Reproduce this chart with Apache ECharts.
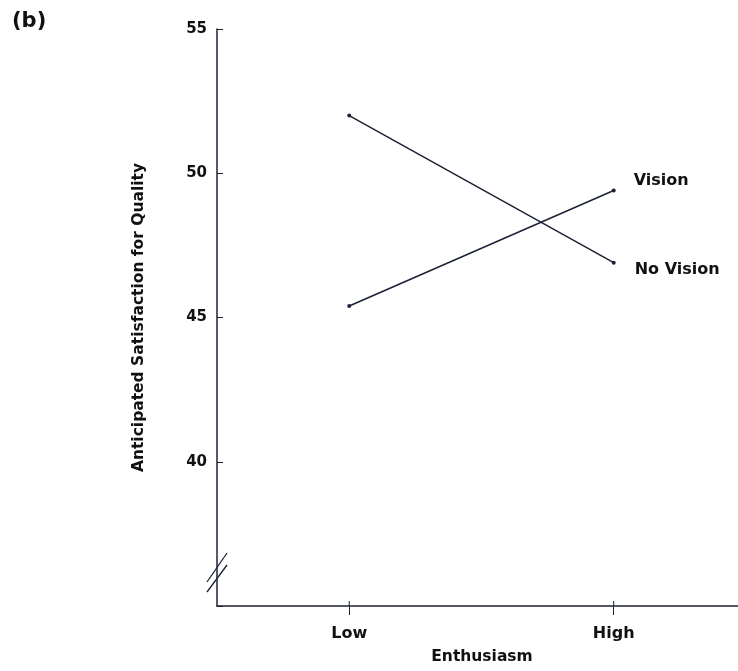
<!DOCTYPE html>
<html>
<head>
<meta charset="utf-8">
<script src="https://cdn.jsdelivr.net/npm/echarts@6/dist/echarts.min.js"></script>
<style>html,body{margin:0;padding:0;background:#fff}#c{width:738px;height:671px}</style>
</head>
<body>
<div id="c"></div>
<script>
var categories = ['Low', 'High'];
var visionValues = [45.4, 49.4];
var noVisionValues = [52.0, 46.9];
var seriesNames = ['Vision', 'No Vision'];
var yTicks = [40, 45, 50, 55];

function toPoints(vals) {
  return vals.map(function (v, i) { return [i + 1, v]; });
}
var catPositions = categories.map(function (c, i) { return i + 1; });

var chart = echarts.init(document.getElementById('c'));
var ink = '#1c2236';
var font = 'DejaVu Sans';
var txt = '#111';
chart.setOption({
  backgroundColor: '#ffffff',
  animation: false,
  title: { text: '(b)', left: 7, top: 6, textStyle: { fontFamily: font, fontWeight: 'bold', fontSize: 21, color: txt } },
  grid: { left: 217, top: 29, right: 0, height: 577 },
  xAxis: {
    type: 'value', min: 0.5, max: 2.47,
    name: 'Enthusiasm', nameLocation: 'middle', nameGap: 43,
    nameTextStyle: { fontFamily: font, fontWeight: 'bold', fontSize: 15.5, color: txt, padding: [0, 0, 0, 9] },
    axisLine: { lineStyle: { color: ink, width: 1.5 } },
    axisTick: { length: 9, customValues: catPositions, lineStyle: { color: ink, width: 1 } },
    axisLabel: { margin: 20, customValues: catPositions, fontFamily: font, fontWeight: 'bold', fontSize: 16, color: txt,
      formatter: function (v) { return categories[Math.round(v) - 1] || ''; } },
    splitLine: { show: false }
  },
  yAxis: {
    type: 'value', min: 35, max: 55, interval: 5,
    name: 'Anticipated Satisfaction for Quality', nameLocation: 'middle', nameGap: 70, nameRotate: 90,
    nameTextStyle: { fontFamily: font, fontWeight: 'bold', fontSize: 15.5, color: txt },
    axisLine: { show: true, lineStyle: { color: ink, width: 1.5 } },
    axisTick: { show: true, inside: true, length: 6, lineStyle: { color: ink } },
    axisLabel: { margin: 10, padding: [0, 0, 7, 0], fontFamily: font, fontWeight: 'bold', fontSize: 15, color: txt,
      formatter: function (v) { return yTicks.indexOf(v) >= 0 ? String(v) : ''; } },
    splitLine: { show: false }
  },
  series: [
    { name: seriesNames[0], type: 'line', data: toPoints(visionValues), symbol: 'circle', symbolSize: 4,
      lineStyle: { color: ink, width: 1.5 }, itemStyle: { color: ink },
      endLabel: { show: true, formatter: '{a}', offset: [12, -10], fontFamily: font, fontWeight: 'bold', fontSize: 16, color: txt } },
    { name: seriesNames[1], type: 'line', data: toPoints(noVisionValues), symbol: 'circle', symbolSize: 4,
      lineStyle: { color: ink, width: 1.5 }, itemStyle: { color: ink },
      endLabel: { show: true, formatter: '{a}', offset: [13, 7], fontFamily: font, fontWeight: 'bold', fontSize: 16, color: txt } },
    { name: 'tickUp', type: 'custom', silent: true, data: catPositions.map(function (p) { return [p, 35]; }),
      renderItem: function (params, api) {
        var pt = api.coord([api.value(0), api.value(1)]);
        return { type: 'line', shape: { x1: pt[0], y1: pt[1], x2: pt[0], y2: pt[1] - 5 }, style: { stroke: ink, lineWidth: 1 } };
      } }
  ],
  graphic: [
    { type: 'line', shape: { x1: 207, y1: 582, x2: 227, y2: 553 }, style: { stroke: ink, lineWidth: 1.3 } },
    { type: 'line', shape: { x1: 207, y1: 592, x2: 227, y2: 565 }, style: { stroke: ink, lineWidth: 1.3 } }
  ]
});
</script>
</body>
</html>
